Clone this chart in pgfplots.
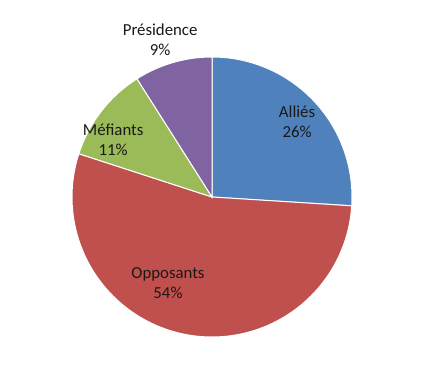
\documentclass[border=0pt]{standalone}
\usepackage{fontspec}
\setmainfont{Carlito}
\usepackage{pgfplots}
\pgfplotsset{compat=1.18}
\usepgfplotslibrary{polar}
\definecolor{cAllies}{HTML}{4F81BD}
\definecolor{cOpp}{HTML}{C0504D}
\definecolor{cMef}{HTML}{9BBB59}
\definecolor{cPres}{HTML}{8064A2}
\tikzset{lbl/.style={font=\fontsize{16.8}{20}\selectfont, align=center, text=black!90}}
\begin{document}
\begin{tikzpicture}[x=1pt,y=1pt]
\useasboundingbox[fill=white] (0,0) rectangle (447,385);
% shares: Alliés 26, Opposants 54, Méfiants 11, Présidence 9 (clockwise from top)
\begin{polaraxis}[
  at={(212pt,188pt)}, anchor=center,
  width=280pt, height=280pt, scale only axis,
  hide axis, ymin=0, ymax=1, clip=false,
]
\addplot[fill=cAllies, draw=white, line width=1pt, domain=-3.6:90, samples=60] {1} -- (axis cs:0,0) -- cycle;
\addplot[fill=cOpp, draw=white, line width=1pt, domain=-198:-3.6, samples=100] {1} -- (axis cs:0,0) -- cycle;
\addplot[fill=cMef, draw=white, line width=1pt, domain=-237.6:-198, samples=30] {1} -- (axis cs:0,0) -- cycle;
\addplot[fill=cPres, draw=white, line width=1pt, domain=-270:-237.6, samples=30] {1} -- (axis cs:0,0) -- cycle;
\node[lbl] at (axis cs:41.4,0.81) {Alliés\\26\%};
\node[lbl] at (axis cs:242.9,0.69) {Opposants\\54\%};
\node[lbl] at (axis cs:150,0.815) {Méfiants\\11\%};
\node[lbl] at (axis cs:108.3,1.18) {Présidence\\9\%};
\end{polaraxis}
\end{tikzpicture}
\end{document}
